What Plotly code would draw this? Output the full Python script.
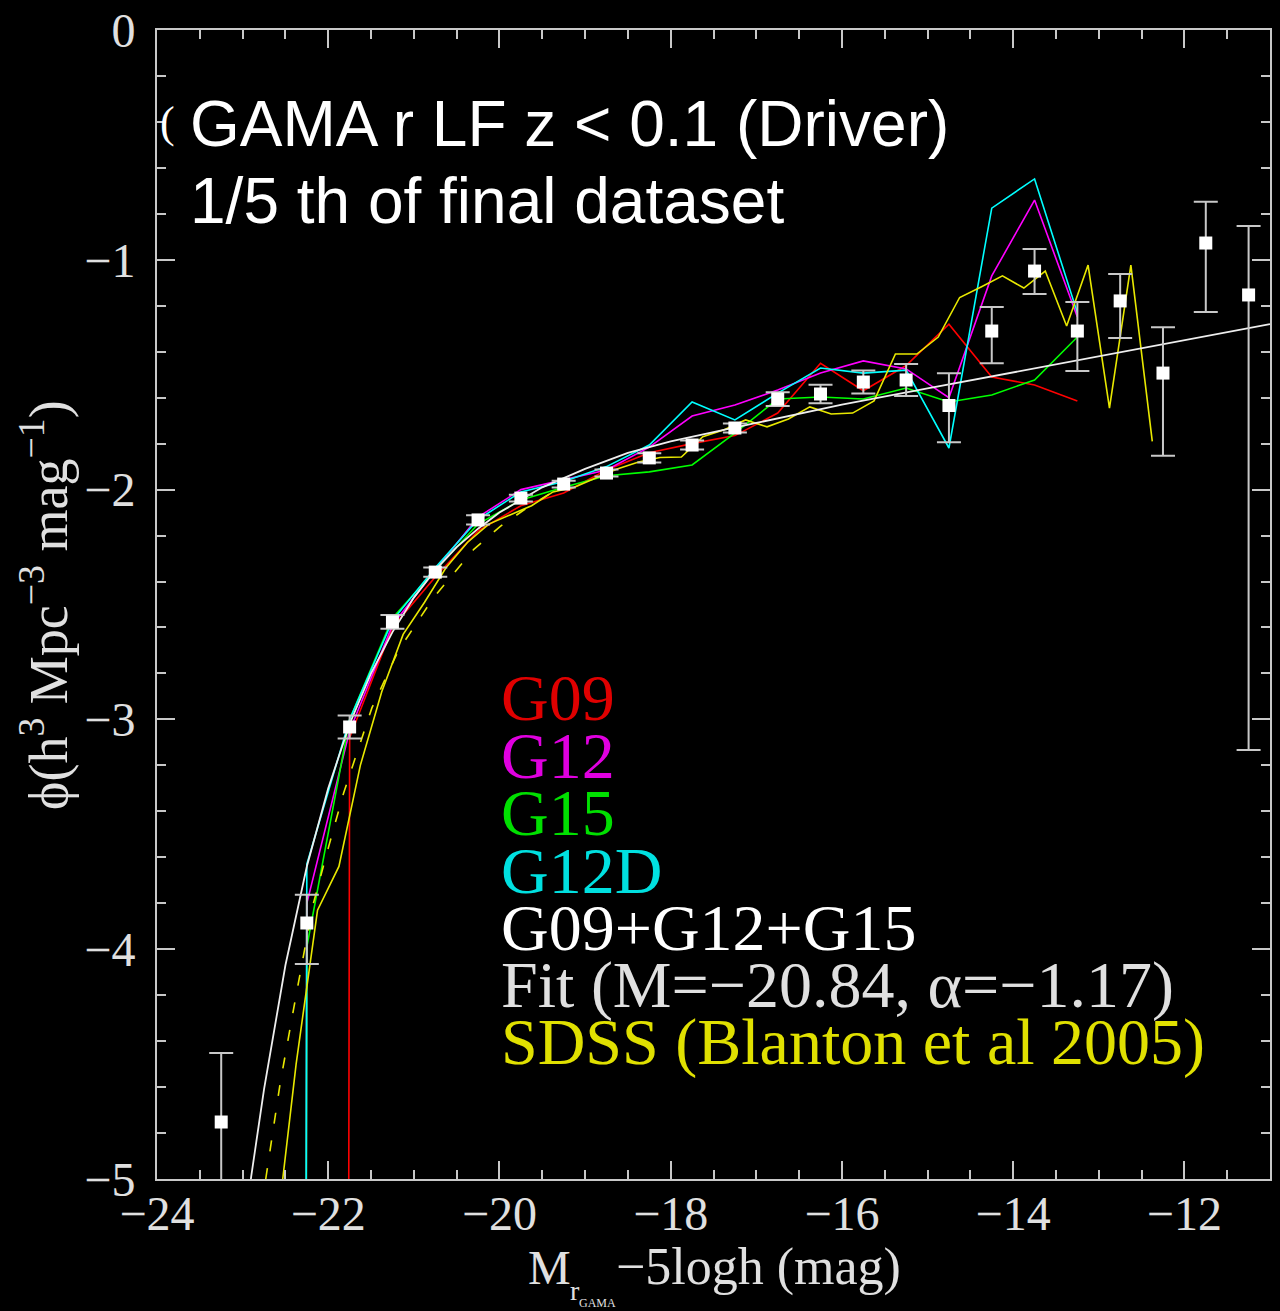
import plotly.graph_objects as go

# ---------------- data ----------------
# Combined G09+G12+G15 luminosity function (white squares)
mag_bins = [-23.25, -22.25, -21.75, -21.25, -20.75, -20.25, -19.75, -19.25, -18.75,
            -18.25, -17.75, -17.25, -16.75, -16.25, -15.75, -15.25, -14.75, -14.25,
            -13.75, -13.25, -12.75, -12.25, -11.75, -11.25]
phi_all = [-4.752, -3.886, -3.033, -2.576, -2.359, -2.132, -2.037, -1.976, -1.928,
           -1.862, -1.806, -1.732, -1.606, -1.584, -1.532, -1.523, -1.634, -1.310,
           -1.049, -1.310, -1.179, -1.493, -0.927, -1.153]
err_up = [0.30, 0.123, 0.05, 0.03, 0.02, 0.02, 0.015, 0.015, 0.015, 0.02, 0.02, 0.02,
          0.03, 0.04, 0.05, 0.07, 0.14, 0.105, 0.096, 0.126, 0.117, 0.20, 0.18, 0.30]
err_dn = [1.00, 0.178, 0.05, 0.03, 0.02, 0.02, 0.015, 0.015, 0.015, 0.02, 0.02, 0.02,
          0.03, 0.04, 0.05, 0.07, 0.16, 0.14, 0.10, 0.174, 0.161, 0.36, 0.30, 1.98]

# Individual regions (-99 = empty bin, log of zero)
reg_bins = [-22.75, -22.25, -21.75, -21.25, -20.75, -20.25, -19.75, -19.25, -18.75,
            -18.25, -17.75, -17.25, -16.75, -16.25, -15.75, -15.25, -14.75, -14.25,
            -13.75, -13.25]
g09 = [-99, -99, -3.08, -2.60, -2.38, -2.18, -2.07, -2.015, -1.915, -1.84, -1.80,
       -1.765, -1.667, -1.45, -1.57, -1.46, -1.28, -1.51, -1.545, -1.614]
g12 = [-99, -3.80, -3.05, -2.59, -2.35, -2.12, -2.00, -1.958, -1.915, -1.815, -1.68,
       -1.632, -1.567, -1.493, -1.44, -1.475, -1.60, -1.07, -0.74, -1.249]
g15 = [-99, -3.99, -3.00, -2.56, -2.35, -2.15, -2.045, -1.99, -1.94, -1.923, -1.893,
       -1.754, -1.606, -1.597, -1.606, -1.558, -1.619, -1.588, -1.523, -1.336]
g12d = [-99, -3.63, -3.00, -2.57, -2.34, -2.13, -2.01, -1.965, -1.90, -1.806, -1.619,
        -1.697, -1.58, -1.471, -1.493, -1.48, -1.819, -0.775, -0.648, -1.231]

# SDSS (Blanton et al 2005) data
sdss_mag = [-22.625, -22.375, -22.125, -21.875, -21.625, -21.375, -21.125, -20.875,
            -20.625, -20.375, -20.125, -19.875, -19.625, -19.375, -19.125, -18.875,
            -18.625, -18.375, -18.125, -17.875, -17.625, -17.375, -17.125, -16.875,
            -16.625, -16.375, -16.125, -15.875, -15.625, -15.375, -15.125, -14.875,
            -14.625, -14.375, -14.125, -13.875, -13.625, -13.375, -13.125, -12.875,
            -12.625, -12.375]
sdss_phi = [-5.30, -4.50, -3.83, -3.64, -3.20, -2.88, -2.63, -2.49, -2.34, -2.23,
            -2.15, -2.11, -2.07, -2.01, -1.99, -1.95, -1.91, -1.88, -1.86, -1.858,
            -1.77, -1.74, -1.697, -1.727, -1.693, -1.64, -1.671, -1.667, -1.614,
            -1.41, -1.41, -1.336, -1.164, -1.118, -1.07, -1.123, -1.049, -1.288,
            -1.023, -1.645, -1.023, -1.79]

# SDSS Schechter curve (dashed yellow)
sdss_fit_mag = [-22.73, -22.56, -22.38, -22.18, -22.0, -21.82, -21.49, -21.18,
                -20.77, -20.30, -19.99, -19.72, -19.25]
sdss_fit_phi = [-5.0, -4.58, -4.21, -3.81, -3.56, -3.32, -2.95, -2.70, -2.47,
                -2.26, -2.16, -2.09, -1.98]

# GAMA Schechter fit (white line)
fit_mag = [-23.0, -22.9, -22.75, -22.5, -22.25, -22.0, -21.75, -21.5, -21.25, -21.0,
           -20.75, -20.5, -20.25, -20.0, -19.5, -19.0, -18.5, -18.0, -17.0, -16.0,
           -15.0, -14.0, -13.0, -12.0, -11.0]
fit_phi = [-5.28, -4.99, -4.61, -4.07, -3.64, -3.30, -3.02, -2.80, -2.62, -2.47,
           -2.35, -2.25, -2.17, -2.10, -1.99, -1.91, -1.84, -1.79, -1.71, -1.63,
           -1.56, -1.49, -1.42, -1.35, -1.28]

legend_labels = ["G09", "G12", "G15", "G12D", "G09+G12+G15",
                 "Fit (M=\u221220.84, \u03b1=\u22121.17)", "SDSS (Blanton et al 2005)"]
legend_colors = ["#e00000", "#e000e0", "#00e000", "#00e0e0", "#ffffff", "#e0e0e0", "#e0e000"]

x_ticks = [-24, -22, -20, -18, -16, -14, -12]
x_ticklabels = ["\u221224", "\u221222", "\u221220", "\u221218", "\u221216", "\u221214", "\u221212"]
y_ticks = [0, -1, -2, -3, -4, -5]
y_ticklabels = ["0", "\u22121", "\u22122", "\u22123", "\u22124", "\u22125"]

# ---------------- figure ----------------
W, H = 1280, 1311
ML, MR, MT, MB = 157, 10, 30, 132
PW, PH = W - ML - MR, H - MT - MB


def px(xp):
    return (xp - ML) / PW


def py(yp):
    return (H - MB - yp) / PH


fig = go.Figure()

lw = 1.6
for yy, col in [(g09, "#ff0000"), (g12, "#ff00ff"), (g15, "#00ff00"), (g12d, "#00ffff")]:
    fig.add_trace(go.Scatter(x=reg_bins, y=yy, mode="lines",
                             line=dict(color=col, width=lw), showlegend=False))

fig.add_trace(go.Scatter(x=sdss_mag, y=sdss_phi, mode="lines",
                         line=dict(color="#e8e800", width=lw), showlegend=False))
fig.add_trace(go.Scatter(x=sdss_fit_mag, y=sdss_fit_phi, mode="lines",
                         line=dict(color="#e8e800", width=lw, dash="11px,17px"),
                         showlegend=False))
fig.add_trace(go.Scatter(x=fit_mag, y=fit_phi, mode="lines",
                         line=dict(color="#eeeeee", width=1.8), showlegend=False))

fig.add_trace(go.Scatter(
    x=mag_bins, y=phi_all, mode="markers",
    marker=dict(symbol="square", size=13, color="#ffffff", line=dict(width=0)),
    error_y=dict(type="data", symmetric=False, array=err_up, arrayminus=err_dn,
                 color="#c8c8c8", thickness=2, width=12),
    showlegend=False))

axis_common = dict(
    showgrid=False, zeroline=False, showline=True, linecolor="#c8c8c8", linewidth=2,
    mirror="ticks", ticks="inside", tickcolor="#c8c8c8", tickwidth=2, ticklen=18,
    automargin=False,
    tickfont=dict(family="Liberation Serif", size=48, color="#e0e0e0"),
)

fig.update_xaxes(range=[-24, -11], tickmode="array", tickvals=x_ticks,
                 ticktext=x_ticklabels, ticklabelstandoff=-9,
                 minor=dict(dtick=0.5, tick0=-24, ticks="inside", ticklen=9,
                            tickcolor="#c8c8c8", tickwidth=2),
                 **axis_common)
fig.update_yaxes(range=[-5, 0], tickmode="array", tickvals=y_ticks,
                 ticktext=y_ticklabels, ticklabelstandoff=10,
                 minor=dict(dtick=0.2, tick0=0, ticks="inside", ticklen=9,
                            tickcolor="#c8c8c8", tickwidth=2),
                 **axis_common)

ann = []
# title lines
ann.append(dict(text="GAMA r LF z < 0.1 (Driver)", x=px(188), y=py(124), xref="paper",
                yref="paper", xanchor="left", yanchor="middle", showarrow=False,
                font=dict(family="Liberation Sans", size=64, color="#ffffff")))
ann.append(dict(text="1/5 th of final dataset", x=px(188), y=py(201), xref="paper",
                yref="paper", xanchor="left", yanchor="middle", showarrow=False,
                font=dict(family="Liberation Sans", size=64, color="#ffffff")))
ann.append(dict(text="(", x=px(167), y=py(123), xref="paper", yref="paper",
                xanchor="center", yanchor="middle", showarrow=False,
                font=dict(family="Liberation Serif", size=44, color="#ffffff")))

# legend text
row_y = [697, 755, 812, 870, 927, 985, 1042]
for lab, col, yy in zip(legend_labels, legend_colors, row_y):
    ann.append(dict(text=lab, x=px(499), y=py(yy), xref="paper", yref="paper",
                    xanchor="left", yanchor="middle", showarrow=False,
                    font=dict(family="Liberation Serif", size=66, color=col)))

# axis titles
ann.append(dict(text="\u03d5(h<sup>3</sup> Mpc<sup>\u22123</sup> mag<sup>\u22121</sup>)",
                x=px(44), y=py(605), xref="paper", yref="paper", xanchor="center",
                yanchor="middle", textangle=-90, showarrow=False,
                font=dict(family="Liberation Serif", size=54, color="#e0e0e0")))
ann.append(dict(text="M", x=px(526), y=py(1267), xref="paper", yref="paper",
                xanchor="left", yanchor="middle", showarrow=False,
                font=dict(family="Liberation Serif", size=48, color="#e0e0e0")))
ann.append(dict(text="r", x=px(568), y=py(1290), xref="paper", yref="paper",
                xanchor="left", yanchor="middle", showarrow=False,
                font=dict(family="Liberation Serif", size=28, color="#e0e0e0")))
ann.append(dict(text="GAMA", x=px(577), y=py(1303), xref="paper", yref="paper",
                xanchor="left", yanchor="middle", showarrow=False,
                font=dict(family="Liberation Serif", size=12, color="#e0e0e0")))
ann.append(dict(text="\u22125logh (mag)", x=px(614), y=py(1267), xref="paper",
                yref="paper", xanchor="left", yanchor="middle", showarrow=False,
                font=dict(family="Liberation Serif", size=52, color="#e0e0e0")))

fig.update_layout(
    width=W, height=H, margin=dict(l=ML, r=MR, t=MT, b=MB, pad=0),
    paper_bgcolor="#000000", plot_bgcolor="#000000",
    annotations=ann, showlegend=False,
)

fig.write_html("out.html")
